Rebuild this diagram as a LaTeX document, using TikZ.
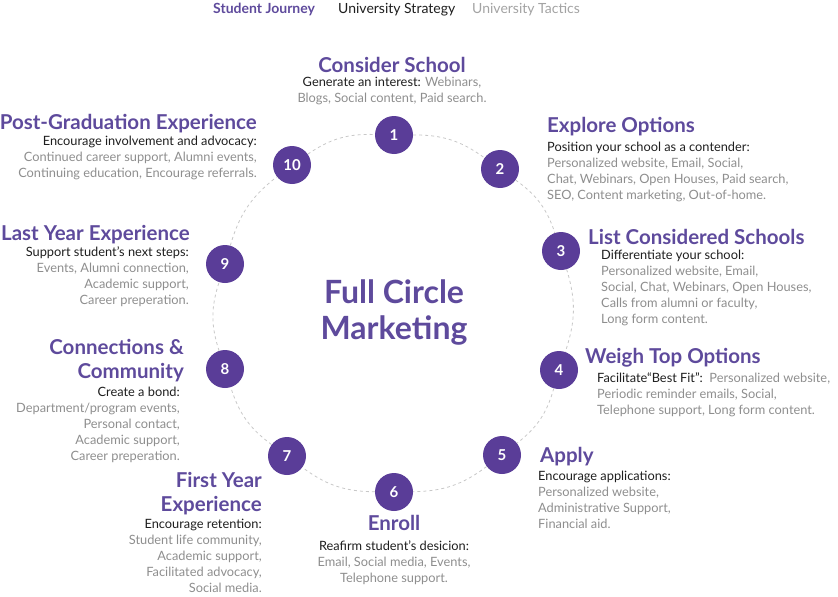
\documentclass[tikz,border=0pt]{standalone}
\usepackage{fontspec}
\setmainfont{Lato}
\usetikzlibrary{positioning}

\definecolor{brandpurple}{HTML}{5E4A9C}
\definecolor{dotpurple}{HTML}{5A3D98}
\definecolor{ink}{HTML}{1E1E1E}
\definecolor{muted}{HTML}{8E8E8E}
\definecolor{tabgray}{HTML}{A3A3A3}
\definecolor{ringgray}{HTML}{C8C8C8}

\begin{document}
\begin{tikzpicture}[
    x=1pt, y=-1pt,
    dot/.style={circle, fill=dotpurple, text=white, minimum size=38pt, inner sep=0pt, font=\fontsize{15}{15}\selectfont\bfseries},
    title/.style={text=brandpurple, inner sep=0pt, font=\fontsize{20.5}{24}\selectfont\bfseries},
    desc/.style={text=muted, inner sep=0pt, font=\fontsize{12.8}{16}\selectfont},
    tab/.style={inner sep=0pt, anchor=base west, font=\fontsize{14}{16}\selectfont},
    ring/.style={draw=ringgray, line width=0.8pt, dash pattern=on 3pt off 3pt}
]
    \useasboundingbox (0,0) rectangle (838,597);

    % tabs
    \node[tab, text=brandpurple, font=\fontsize{14}{16}\selectfont\bfseries] (tabjourney) at (213,13) {Student Journey};
    \node[tab, text=ink] (tabstrategy) at (338,13) {University Strategy};
    \node[tab, text=tabgray] (tabtactics) at (472,13) {University Tactics};

    % centre
    \node[text=brandpurple, align=center, inner sep=0pt, font=\fontsize{32}{36}\selectfont\bfseries] (centre) at (394,312) {Full Circle\\Marketing};

    % steps
    \node[dot] (s1) at (394,135) {1};
    \node[dot] (s2) at (500,169) {2};
    \node[dot] (s3) at (561,251) {3};
    \node[dot] (s4) at (559,370) {4};
    \node[dot] (s5) at (502,455) {5};
    \node[dot] (s6) at (394,492) {6};
    \node[dot] (s7) at (287,456) {7};
    \node[dot] (s8) at (225,369) {8};
    \node[dot] (s9) at (225,264) {9};
    \node[dot] (s10) at (292,165) {10};

    \draw[ring] (s1) to[bend left=18] (s2);
    \draw[ring] (s2) to[bend left=18] (s3);
    \draw[ring] (s3) to[bend left=18] (s4);
    \draw[ring] (s4) to[bend left=18] (s5);
    \draw[ring] (s5) to[bend left=18] (s6);
    \draw[ring] (s6) to[bend left=18] (s7);
    \draw[ring] (s7) to[bend left=18] (s8);
    \draw[ring] (s8) to[bend left=18] (s9);
    \draw[ring] (s9) to[bend left=18] (s10);
    \draw[ring] (s10) to[bend left=18] (s1);

    % 1
    \node[title, anchor=base] (t1) at (392,72) {Consider School};
    \node[desc, anchor=north, align=center] (d1) at (392,77) {{\color{ink}Generate an interest:} Webinars,\\Blogs, Social content, Paid search.};
    % 2
    \node[title, anchor=base west] (t2) at (547,132) {Explore Options};
    \node[desc, anchor=north west, align=left] (d2) at (547,142) {{\color{ink}Position your school as a contender:}\\Personalized website, Email, Social,\\Chat, Webinars, Open Houses, Paid search,\\SEO, Content marketing, Out-of-home.};
    % 3
    \node[title, anchor=base west] (t3) at (588,244) {List Considered Schools};
    \node[desc, anchor=north west, align=left] (d3) at (601,250) {{\color{ink}Differentiate your school:}\\Personalized website, Email,\\Social, Chat, Webinars, Open Houses,\\Calls from alumni or faculty,\\Long form content.};
    % 4
    \node[title, anchor=base west] (t4) at (585,363) {Weigh Top Options};
    \node[desc, anchor=north west, align=left] (d4) at (597,373) {{\color{ink}Facilitate“Best Fit”:}\ \ Personalized website,\\Periodic reminder emails, Social,\\Telephone support, Long form content.};
    % 5
    \node[title, anchor=base west] (t5) at (540,462) {Apply};
    \node[desc, anchor=north west, align=left] (d5) at (538,471) {{\color{ink}Encourage applications:}\\Personalized website,\\Administrative Support,\\Financial aid.};
    % 6
    \node[title, anchor=base] (t6) at (394,530) {Enroll};
    \node[desc, anchor=north, align=center] (d6) at (394,541) {{\color{ink}Reafirm student's desicion:}\\Email, Social media, Events,\\Telephone support.};
    % 7
    \node[title, anchor=north east, align=right] (t7) at (262,472) {First Year\\Experience};
    \node[desc, anchor=north east, align=right] (d7) at (262,519) {{\color{ink}Encourage retention:}\\Student life community,\\Academic support,\\Facilitated advocacy,\\Social media.};
    % 8
    \node[title, anchor=north east, align=right] (t8) at (184,339) {Connections \&\\Community};
    \node[desc, anchor=north east, align=right] (d8) at (180,387) {{\color{ink}Create a bond:}\\Department/program events,\\Personal contact,\\Academic support,\\Career preperation.};
    % 9
    \node[title, anchor=base east] (t9) at (190,240) {Last Year Experience};
    \node[desc, anchor=north east, align=right] (d9) at (189,247) {{\color{ink}Support student's next steps:}\\Events, Alumni connection,\\Academic support,\\Career preperation.};
    % 10
    \node[title, anchor=base east] (t10) at (257,129) {Post-Graduation Experience};
    \node[desc, anchor=north east, align=right] (d10) at (257,136) {{\color{ink}Encourage involvement and advocacy:}\\Continued career support, Alumni events,\\Continuing education, Encourage referrals.};
\end{tikzpicture}
\end{document}
